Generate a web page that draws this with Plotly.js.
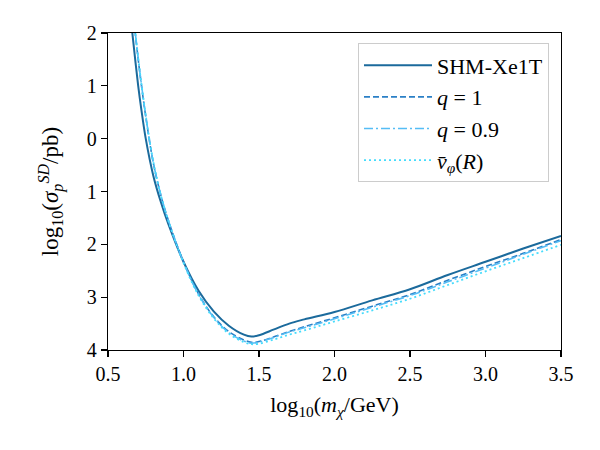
<!DOCTYPE html>
<html>
<head>
<meta charset="utf-8">
<script src="https://cdn.plot.ly/plotly-3.0.1.min.js"></script>
<style>
  html, body { margin: 0; padding: 0; background: #fff; }
  #chart { width: 600px; height: 450px; }
</style>
</head>
<body>
<div id="chart"></div>
<script>
// log10 of the dark-matter mass (GeV)
const logMass = [0.64, 0.66, 0.68, 0.70, 0.72, 0.75, 0.80, 0.85, 0.90, 1.00, 1.10, 1.20, 1.30, 1.40, 1.45,
                 1.50, 1.60, 1.70, 1.80, 2.00, 2.25, 2.50, 2.75, 3.00, 3.25, 3.50];

// log10 of the spin-dependent proton cross-section limit (pb)
const shmXe1T = [2.60, 2.03, 1.50, 1.00, 0.57, 0.00, -0.70, -1.20, -1.62, -2.33, -2.88, -3.27, -3.54, -3.71, -3.745,
                 -3.72, -3.61, -3.50, -3.42, -3.28, -3.06, -2.85, -2.58, -2.33, -2.08, -1.84];
const q1      = [2.90, 2.45, 2.00, 1.50, 1.04, 0.42, -0.46, -1.07, -1.55, -2.33, -2.94, -3.37, -3.65, -3.81, -3.855,
                 -3.84, -3.75, -3.65, -3.56, -3.39, -3.17, -2.95, -2.68, -2.42, -2.17, -1.91];
const q09     = [2.92, 2.47, 2.02, 1.52, 1.06, 0.43, -0.45, -1.07, -1.55, -2.34, -2.95, -3.38, -3.67, -3.83, -3.87,
                 -3.85, -3.76, -3.66, -3.58, -3.41, -3.19, -2.97, -2.71, -2.45, -2.19, -1.93];
const vphiR   = [2.93, 2.48, 2.03, 1.53, 1.07, 0.44, -0.44, -1.07, -1.56, -2.35, -2.97, -3.40, -3.69, -3.85, -3.89,
                 -3.88, -3.80, -3.71, -3.63, -3.46, -3.25, -3.03, -2.77, -2.51, -2.26, -2.01];

const seriesNames = [
  'SHM-Xe1T',
  '<i>q</i> = 1',
  '<i>q</i> = 0.9',
  '<i>v̄</i><sub><i>φ</i></sub>(<i>R</i>)'
];

const yTickVals = [2, 1, 0, -1, -2, -3, -4];
const yTickText = ['2', '1', '0', '1', '2', '3', '4'];
const xTickVals = [0.5, 1.0, 1.5, 2.0, 2.5, 3.0, 3.5];
const xTickText = ['0.5', '1.0', '1.5', '2.0', '2.5', '3.0', '3.5'];

const FONT = 'Liberation Serif';

function curve(y, name, color, width, dash, group) {
  return {
    x: logMass, y: y, name: name, type: 'scatter', mode: 'lines',
    legendgroup: group,
    line: { color: color, width: width, dash: dash, shape: 'spline', smoothing: 1.0 },
    hoverinfo: 'skip'
  };
}

const traces = [
  curve(shmXe1T, seriesNames[0], '#1b6a9c', 2.0, 'solid', 'a'),
  curve(q1,      seriesNames[1], '#2b80c6', 1.6, '6px,3px', 'b'),
  curve(q09,     seriesNames[2], '#55bdf5', 1.6, '9px,3px,2px,3px', 'c'),
  curve(vphiR,   seriesNames[3], '#45dcfc', 1.8, '2px,3px', 'd')
];

const layout = {
  width: 600, height: 450,
  margin: { l: 108, r: 39, t: 33, b: 100 },
  paper_bgcolor: '#fff', plot_bgcolor: '#fff',
  font: { family: FONT, size: 20, color: '#000' },
  showlegend: true,
  legend: {
    x: 0.9735, y: 0.967, xanchor: 'right', yanchor: 'top',
    bgcolor: 'rgba(255,255,255,0.8)', bordercolor: '#cccccc', borderwidth: 1,
    font: { family: FONT, size: 22, color: '#000' },
    itemwidth: 68,
    tracegroupgap: 0, traceorder: 'grouped'
  },
  xaxis: {
    range: [0.5, 3.5], tickvals: xTickVals, ticktext: xTickText,
    ticks: 'outside', ticklen: 6, tickwidth: 1.2, tickcolor: '#000',
    showline: true, linecolor: '#000', linewidth: 1.2, mirror: true,
    showgrid: false, zeroline: false,
    tickfont: { family: FONT, size: 20 },
    title: { text: 'log<sub>10</sub>(<i>m</i><sub><i>χ</i></sub>/GeV)',
             font: { family: FONT, size: 22 }, standoff: 12 }
  },
  yaxis: {
    range: [-4, 2], tickvals: yTickVals, ticktext: yTickText,
    ticks: 'outside', ticklen: 6, tickwidth: 1.2, tickcolor: '#000',
    showline: true, linecolor: '#000', linewidth: 1.2, mirror: true,
    showgrid: false, zeroline: false,
    tickfont: { family: FONT, size: 20 },
    title: { text: 'log<sub>10</sub>(<i>σ</i><sub><i>p</i></sub><sup><i>SD</i></sup>/pb)',
             font: { family: FONT, size: 23 }, standoff: 21 }
  }
};

Plotly.newPlot('chart', traces, layout, { displayModeBar: false, staticPlot: true });
</script>
</body>
</html>
